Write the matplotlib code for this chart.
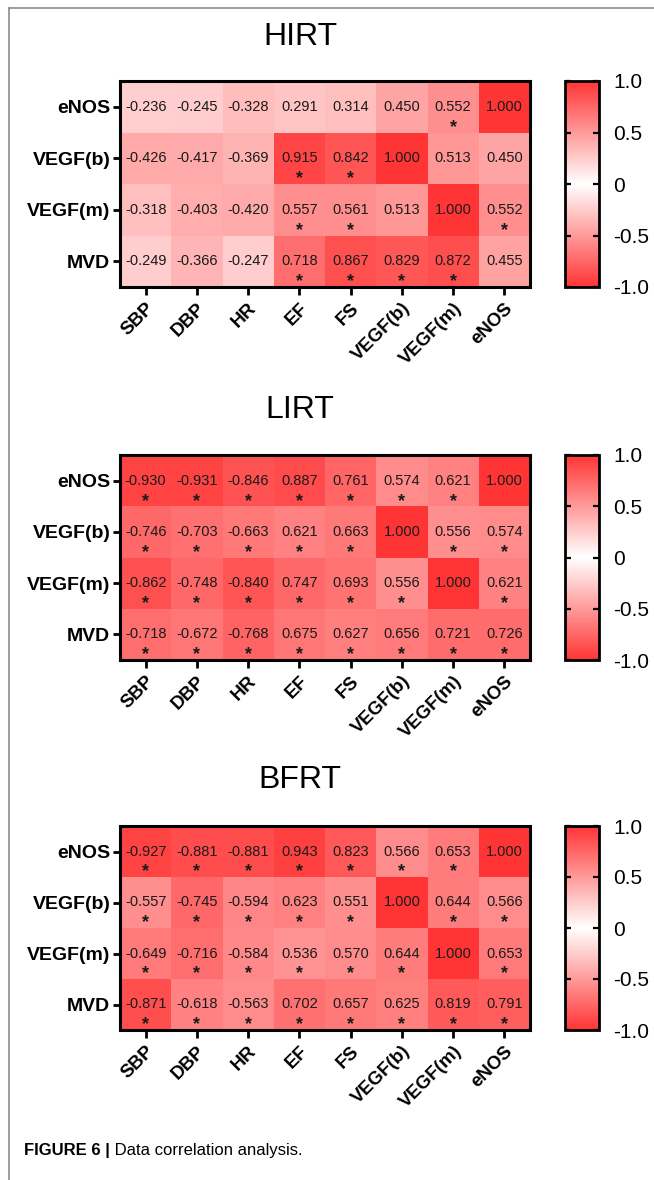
import numpy as np
import matplotlib
matplotlib.use("Agg")
import matplotlib.pyplot as plt
from matplotlib.colors import LinearSegmentedColormap
from matplotlib.lines import Line2D
from matplotlib import font_manager

# ------------------------------------------------------------
# Data (rows top -> bottom, columns left -> right)
# ------------------------------------------------------------
row_labels = ['eNOS', 'VEGF(b)', 'VEGF(m)', 'MVD']
col_labels = ['SBP', 'DBP', 'HR', 'EF', 'FS', 'VEGF(b)', 'VEGF(m)', 'eNOS']

hirt_r = [[-0.236, -0.245, -0.328, 0.291, 0.314, 0.450, 0.552, 1.000],
          [-0.426, -0.417, -0.369, 0.915, 0.842, 1.000, 0.513, 0.450],
          [-0.318, -0.403, -0.420, 0.557, 0.561, 0.513, 1.000, 0.552],
          [-0.249, -0.366, -0.247, 0.718, 0.867, 0.829, 0.872, 0.455]]
hirt_sig = [[0, 0, 0, 0, 0, 0, 1, 0],
            [0, 0, 0, 1, 1, 0, 0, 0],
            [0, 0, 0, 1, 1, 0, 0, 1],
            [0, 0, 0, 1, 1, 1, 1, 0]]

lirt_r = [[-0.930, -0.931, -0.846, 0.887, 0.761, 0.574, 0.621, 1.000],
          [-0.746, -0.703, -0.663, 0.621, 0.663, 1.000, 0.556, 0.574],
          [-0.862, -0.748, -0.840, 0.747, 0.693, 0.556, 1.000, 0.621],
          [-0.718, -0.672, -0.768, 0.675, 0.627, 0.656, 0.721, 0.726]]
lirt_sig = [[1, 1, 1, 1, 1, 1, 1, 0],
            [1, 1, 1, 1, 1, 0, 1, 1],
            [1, 1, 1, 1, 1, 1, 0, 1],
            [1, 1, 1, 1, 1, 1, 1, 1]]

bfrt_r = [[-0.927, -0.881, -0.881, 0.943, 0.823, 0.566, 0.653, 1.000],
          [-0.557, -0.745, -0.594, 0.623, 0.551, 1.000, 0.644, 0.566],
          [-0.649, -0.716, -0.584, 0.536, 0.570, 0.644, 1.000, 0.653],
          [-0.871, -0.618, -0.563, 0.702, 0.657, 0.625, 0.819, 0.791]]
bfrt_sig = [[1, 1, 1, 1, 1, 1, 1, 0],
            [1, 1, 1, 1, 1, 0, 1, 1],
            [1, 1, 1, 1, 1, 1, 0, 1],
            [1, 1, 1, 1, 1, 1, 1, 1]]

panels = [('HIRT', hirt_r, hirt_sig),
          ('LIRT', lirt_r, lirt_sig),
          ('BFRT', bfrt_r, bfrt_sig)]

cbar_ticks = [-1.0, -0.5, 0.0, 0.5, 1.0]
cbar_ticklabels = ['-1.0', '-0.5', '0', '0.5', '1.0']

# ------------------------------------------------------------
# Style
# ------------------------------------------------------------
plt.rcParams['font.family'] = ['Liberation Sans', 'DejaVu Sans']
installed = {f.name for f in font_manager.fontManager.ttflist}
cell_font = 'Liberation Sans Narrow' if 'Liberation Sans Narrow' in installed else 'Liberation Sans'

cmap = LinearSegmentedColormap.from_list('redwhitered', ['#ff3535', '#ffffff', '#ff3535'])

W, H = 654, 1180
fig = plt.figure(figsize=(W / 100, H / 100), dpi=100)

# pixel boxes: (top, bottom) of each heatmap, title centre y
ax_tops = [81, 455, 826]
ax_bots = [287, 660, 1030]
title_y = [37, 410, 780]
ax_left, ax_right = 120, 530
cb_left, cb_right = 565, 599

for (name, r, sig), top, bot, ty in zip(panels, ax_tops, ax_bots, title_y):
    r = np.array(r)
    sig = np.array(sig)
    ax = fig.add_axes([ax_left / W, 1 - bot / H, (ax_right - ax_left) / W, (bot - top) / H])
    pcm = ax.pcolormesh(np.arange(len(col_labels) + 1), np.arange(len(row_labels) + 1),
                        r, cmap=cmap, vmin=-1, vmax=1)
    ax.set_xlim(0, len(col_labels))
    ax.set_ylim(len(row_labels), 0)
    for i in range(r.shape[0]):
        for j in range(r.shape[1]):
            ax.text(j + 0.5, i + 0.5, f'{r[i, j]:.3f}', ha='center', va='center',
                    fontsize=10.5, family=cell_font, color='#1a1a1a')
            if sig[i, j]:
                ax.text(j + 0.5, i + 0.9, '*', ha='center', va='center',
                        fontsize=13, fontweight='bold', color='#1a1a1a')
    ax.set_xticks(np.arange(len(col_labels)) + 0.5)
    ax.set_yticks(np.arange(len(row_labels)) + 0.5)
    ax.set_xticklabels(col_labels, rotation=45, ha='right', rotation_mode='anchor',
                       fontsize=13.5, fontweight='bold')
    ax.set_yticklabels(row_labels, fontsize=14, fontweight='bold')
    ax.tick_params(axis='x', length=6, width=2, pad=3)
    ax.tick_params(axis='y', length=5, width=2, pad=2)
    for sp in ax.spines.values():
        sp.set_linewidth(2.2)

    cax = fig.add_axes([cb_left / W, 1 - bot / H, (cb_right - cb_left) / W, (bot - top) / H])
    cbar = fig.colorbar(pcm, cax=cax, ticks=cbar_ticks)
    cbar.ax.set_yticklabels(cbar_ticklabels)
    cbar.outline.set_linewidth(2)
    cbar.ax.tick_params(which='both', left=True, right=True, direction='in',
                        length=4, width=1.6, labelsize=15, pad=10)
    cbar.ax.minorticks_off()

    fig.text(300 / W, 1 - ty / H, name, ha='center', va='center', fontsize=23)

# page frame lines
fig.add_artist(Line2D([9 / W, 1], [1 - 8 / H, 1 - 8 / H], color='#8c8c8c', lw=1.2))
fig.add_artist(Line2D([9 / W, 9 / W], [0, 1 - 8 / H], color='#8c8c8c', lw=1.2))

# caption
t1 = fig.text(24 / W, 1 - 1150 / H, 'FIGURE 6 |', ha='left', va='center',
              fontsize=12, fontweight='bold')
ax.annotate(' Data correlation analysis.', xy=(1, 0.5), xycoords=t1,
            ha='left', va='center', fontsize=12, annotation_clip=False)

fig.savefig('out.png', dpi=100)
